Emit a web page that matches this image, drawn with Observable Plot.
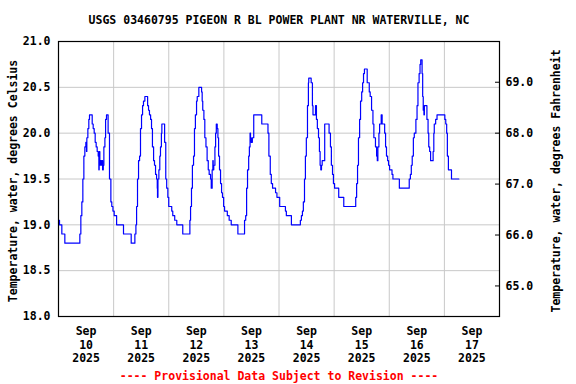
<!DOCTYPE html>
<html>
<head>
<meta charset="utf-8">
<script src="https://cdn.jsdelivr.net/npm/d3@7"></script>
<script src="https://cdn.jsdelivr.net/npm/@observablehq/plot@0.6"></script>
<style>
  html, body { margin: 0; padding: 0; background: #fff; }
</style>
</head>
<body>
<div id="chart"></div>
<script>
// ---- Data (hours since 2025-09-10 00:00, water temperature in °C) ----
const titleText = "USGS 03460795 PIGEON R BL POWER PLANT NR WATERVILLE, NC";
const footerText = "---- Provisional Data Subject to Revision ----";
const yLabelLeft = "Temperature, water, degrees Celsius";
const yLabelRight = "Temperature, water, degrees Fahrenheit";

const hoursSinceStart = [
  0,0.44,1.45,2.76,9.29,9.73,10.16,10.6,11.04,11.47,11.9,12.2,12.34,12.78,13.2,13.5,14.67,15.1,15.54,15.97,
  16.4,16.84,17.28,17.57,17.71,18.0,18.3,18.6,18.9,19.2,19.5,19.75,20.2,20.5,20.9,21.6,22.2,22.8,23.2,23.7,
  24.25,25.3,28.3,31.65,33.25,33.7,34.0,34.4,34.85,35.3,35.7,36.15,36.6,37.0,37.6,38.8,39.2,39.6,40.1,40.5,
  40.9,41.4,41.8,42.25,42.7,43.0,43.1,43.3,43.7,44.1,44.4,44.8,45.0,46.2,46.7,47.1,47.6,48.0,49.3,49.75,
  50.6,51.5,54.1,57.2,57.5,57.9,58.3,58.8,59.2,59.6,60.1,60.4,61.1,62.3,62.55,62.8,63.3,63.7,64.2,64.7,
  65.2,65.6,66.2,66.5,66.9,67.2,67.35,67.6,68.1,68.4,68.7,69.1,69.4,69.7,70.1,70.55,71.0,71.4,71.9,72.3,
  73.5,74.3,75.2,76.1,78.1,81.0,81.5,81.9,82.3,82.8,83.1,83.4,83.6,83.9,84.4,85.0,88.5,91.2,91.6,92.2,
  92.65,93.2,94.5,95.1,96.3,98.8,99.2,101.4,105.3,105.75,106.2,106.6,107.1,107.5,107.9,108.4,108.8,108.95,110.0,110.55,
  110.8,111.9,112.3,112.7,113.2,113.6,113.9,114.2,114.5,114.8,115.9,117.8,118.4,118.8,119.3,119.7,120.2,122.0,124.2,129.4,
  129.8,130.2,130.6,131.1,131.5,132.0,132.4,132.8,133.2,134.4,135.3,135.7,136.3,136.9,137.3,138.0,138.5,138.8,139.05,139.5,
  139.8,140.5,140.9,142.0,142.4,142.8,143.3,143.7,144.15,145.2,145.6,148.4,152.7,153.2,153.6,154.0,154.5,154.9,155.6,156.1,
  156.5,157.0,157.4,157.7,158.3,158.55,158.8,159.1,159.3,160.4,160.9,161.2,161.6,162.0,163.1,163.4,163.6,164.2,164.8,168.2,
  168.6,169.0,169.3,169.75,171.1,174.3
];
const tempC = [
  19.05,19.0,18.9,18.8,18.9,19.1,19.25,19.5,19.75,19.85,19.9,19.8,19.95,20.05,20.15,20.2,20.1,20.05,20.0,19.9,
  19.85,19.8,19.75,19.6,19.8,19.65,19.7,19.65,19.7,19.6,19.65,19.85,19.95,20.15,20.2,20.0,19.5,19.25,19.2,19.15,
  19.1,19.0,18.9,18.8,18.9,19.0,19.2,19.5,19.7,19.75,20.05,20.2,20.3,20.35,20.4,20.3,20.25,20.2,20.15,20.05,
  19.85,19.7,19.65,19.55,19.5,19.4,19.3,19.5,19.6,19.75,19.85,20.0,20.1,19.9,19.5,19.4,19.3,19.2,19.15,19.1,
  19.05,19.0,18.9,19.05,19.2,19.4,19.65,19.75,20.05,20.2,20.35,20.4,20.5,20.45,20.35,20.25,20.15,19.95,19.85,19.7,
  19.6,19.55,19.5,19.4,19.6,19.7,19.6,19.65,19.85,20.0,20.1,20.05,19.95,19.75,19.6,19.45,19.35,19.3,19.2,19.15,
  19.1,19.05,19.0,19.0,18.9,19.05,19.1,19.4,19.6,19.75,19.85,20.0,19.95,19.9,19.95,20.2,20.1,20.0,19.75,19.55,
  19.45,19.4,19.35,19.3,19.2,19.15,19.1,19.0,19.05,19.1,19.15,19.25,19.5,19.75,19.95,20.3,20.55,20.6,20.55,20.3,
  20.2,20.3,20.15,20.05,19.95,19.8,19.65,19.6,19.65,19.7,20.1,20.0,19.85,19.65,19.55,19.45,19.4,19.3,19.2,19.3,
  19.45,19.65,19.95,20.15,20.35,20.45,20.55,20.65,20.7,20.55,20.45,20.4,20.25,20.1,19.95,19.85,19.75,19.7,19.85,20.0,
  20.1,20.2,20.1,20.0,19.85,19.75,19.7,19.65,19.6,19.55,19.5,19.4,19.5,19.55,19.65,19.75,19.95,20.0,20.15,20.3,
  20.55,20.65,20.75,20.8,20.65,20.4,20.25,20.2,20.3,20.15,20.0,19.85,19.8,19.7,19.8,20.0,20.1,20.15,20.2,20.15,
  20.1,20.0,19.75,19.6,19.5,19.5
];

const startDate = "2025-09-10";
const endDate = "2025-09-18";
const tickMonth = "Sep";
const tickDays = ["10", "11", "12", "13", "14", "15", "16", "17"];
const tickYear = "2025";
const celsiusTicks = [18.0, 18.5, 19.0, 19.5, 20.0, 20.5, 21.0];
const fahrenheitTicks = [65.0, 66.0, 67.0, 68.0, 69.0];

// ---- Build tables ----
const t0 = Date.parse(startDate + "T00:00:00Z");
const series = hoursSinceStart.map((h, i) => ({t: new Date(t0 + h * 3600e3), c: tempC[i]}));
const dayLabels = tickDays.map(d => ({
  date: new Date(Date.parse(`2025-09-${d}T12:00:00Z`)),
  label: `${tickMonth}\n${d}\n${tickYear}`
}));
const fInC = fahrenheitTicks.map(f => (f - 32) / 1.8);
const dayLines = d3.utcDay.range(new Date(t0 + 24 * 3600e3), new Date(Date.parse(endDate + "T00:00:00Z")));

const chart = Plot.plot({
  width: 576,
  height: 384,
  marginLeft: 58,
  marginRight: 77,
  marginTop: 41,
  marginBottom: 68,
  style: {fontFamily: "'DejaVu Sans Mono', monospace", fontSize: "11.5px", fontWeight: "bold", background: "#fff"},
  x: {type: "utc", domain: [new Date(startDate + "T00:00:00Z"), new Date(endDate + "T00:00:00Z")], axis: null},
  y: {domain: [18, 21], axis: null},
  marks: [
    Plot.gridY(celsiusTicks, {stroke: "#c8c8c8", strokeOpacity: 1}),
    Plot.ruleX(dayLines, {stroke: "#c8c8c8", strokeOpacity: 1}),
    Plot.line(series, {x: "t", y: "c", curve: "step-after", stroke: "#0000ff", strokeWidth: 1.2}),
    Plot.frame({stroke: "#000", strokeWidth: 1.2}),
    Plot.axisY({ticks: celsiusTicks, tickFormat: d => d.toFixed(1), tickSize: 0, tickPadding: 8, label: null, fill: "#000"}),
    Plot.tickY(fInC, {stroke: "#000", insetLeft: 437}),
    Plot.axisY({anchor: "right", ticks: fInC, tickFormat: c => (c * 1.8 + 32).toFixed(1), tickSize: 0, tickPadding: 6, label: null, fill: "#000"}),
    Plot.text(dayLabels, {x: "date", text: "label", frameAnchor: "bottom", lineAnchor: "top", dy: 9, lineHeight: 1.17, fill: "#000"}),
    Plot.text([titleText], {text: d => d, frameAnchor: "top", lineAnchor: "middle", dy: -21, fill: "#000"}),
    Plot.text([footerText], {text: d => d, frameAnchor: "bottom", lineAnchor: "middle", dy: 59.5, fill: "#ff0000"}),
    Plot.text([yLabelLeft], {text: d => d, frameAnchor: "left", textAnchor: "middle", lineAnchor: "middle", rotate: -90, dx: -45, dy: 2, fill: "#000"}),
    Plot.text([yLabelRight], {text: d => d, frameAnchor: "right", textAnchor: "middle", lineAnchor: "middle", rotate: -90, dx: 57, dy: 2, fill: "#000"})
  ]
});
document.getElementById("chart").appendChild(chart);
</script>
</body>
</html>
